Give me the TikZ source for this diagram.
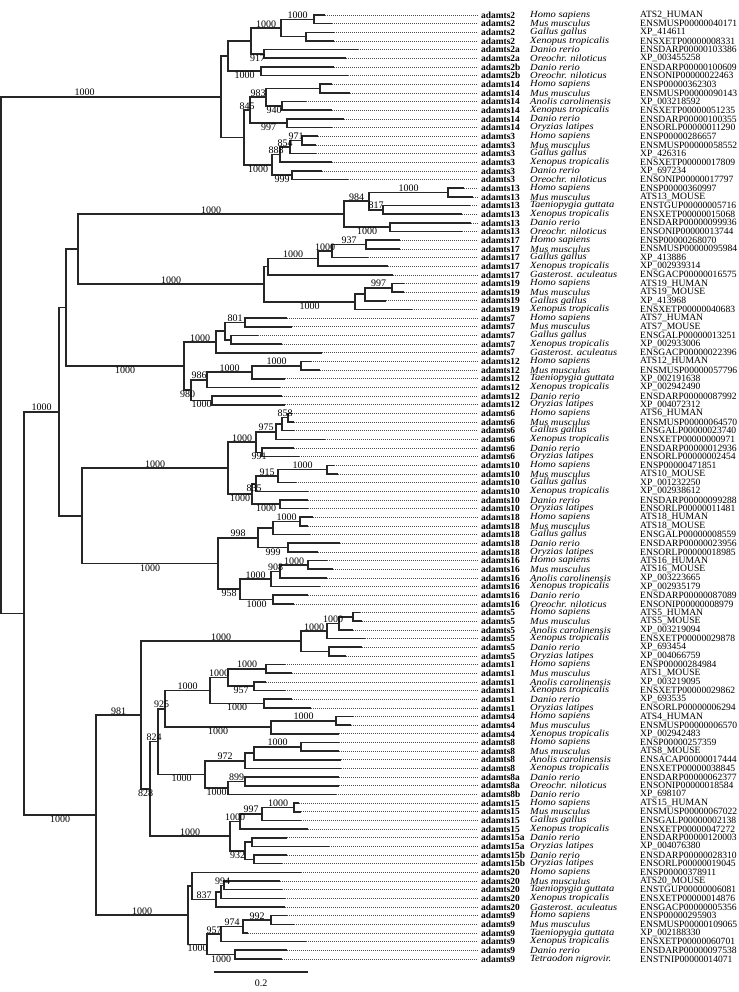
\documentclass[tikz,border=0pt]{standalone}
\usepackage{fontspec}
\setmainfont{Liberation Serif}
\usetikzlibrary{calc,positioning}
\tikzset {
    br/.style={draw, line width=1.6pt, black!85},
    dots/.style={draw, line width=0.6pt, black!70, dash pattern=on 0.8pt off 1.2pt},
    gene/.style={anchor=west, inner sep=0pt, font=\fontsize{9.4}{9.4}\selectfont\bfseries},
    spec/.style={anchor=west, inner sep=0pt, xscale=1.12, font=\fontsize{9.4}{9.4}\selectfont\itshape},
    acc/.style={anchor=west, inner sep=0pt, font=\fontsize{9.6}{9.6}\selectfont},
    bs/.style={inner sep=0.6pt, font=\fontsize{10}{10}\selectfont}
}
% clade: name, x, upper child, lower child
\newcommand{\clade}[4]{
    \coordinate (#1-m) at ($(#3)!0.5!(#4)$);
    \coordinate (#1) at (#2,0 |- #1-m);
    \draw[br] (#3) -- (#3 -| #1) -- (#4 -| #1) -- (#4);
}
\newcommand{\bsu}[3]{\node[bs, above] (b-#2) at ($(#1 |- #2)!0.5!(#2)$) {#3};}
\newcommand{\bsd}[3]{\node[bs, below] (b-#2) at ($(#1 |- #2)!0.5!(#2)$) {#3};}
\begin{document}
\begin{tikzpicture}[x=1pt, y=-1pt]
    \useasboundingbox (0,0) rectangle (738,992);

    \foreach \i/\xe/\g/\sp/\id in {
        1/325/adamts2/Homo sapiens/ATS2\_HUMAN,
        2/332/adamts2/Mus musculus/ENSMUSP00000040171,
        3/334/adamts2/Gallus gallus/XP\_414611,
        4/334/adamts2/Xenopus tropicalis/ENSXETP00000008331,
        5/358/adamts2a/Danio rerio/ENSDARP00000103386,
        6/346/adamts2a/Oreochr. niloticus/XP\_003455258,
        7/334/adamts2b/Danio rerio/ENSDARP00000100609,
        8/348/adamts2b/Oreochr. niloticus/ENSONIP00000022463,
        9/332/adamts14/Homo sapiens/ENSP00000362303,
        10/350/adamts14/Mus musculus/ENSMUSP00000090143,
        11/306/adamts14/Anolis carolinensis/XP\_003218592,
        12/332/adamts14/Xenopus tropicalis/ENSXETP00000051235,
        13/344/adamts14/Danio rerio/ENSDARP00000100355,
        14/332/adamts14/Oryzias latipes/ENSORLP00000011290,
        15/318/adamts3/Homo sapiens/ENSP00000286657,
        16/316/adamts3/Mus musculus/ENSMUSP00000058552,
        17/316/adamts3/Gallus gallus/XP\_426316,
        18/332/adamts3/Xenopus tropicalis/ENSXETP00000017809,
        19/322/adamts3/Danio rerio/XP\_697234,
        20/348/adamts3/Oreochr. niloticus/ENSONIP00000017797,
        21/464/adamts13/Homo sapiens/ENSP00000360997,
        22/473/adamts13/Mus musculus/ATS13\_MOUSE,
        23/470/adamts13/Taeniopygia guttata/ENSTGUP00000005716,
        24/462/adamts13/Xenopus tropicalis/ENSXETP00000015068,
        25/471/adamts13/Danio rerio/ENSDARP00000099936,
        26/462/adamts13/Oreochr. niloticus/ENSONIP00000013744,
        27/400/adamts17/Homo sapiens/ENSP00000268070,
        28/400/adamts17/Mus musculus/ENSMUSP00000095984,
        29/368/adamts17/Gallus gallus/XP\_413886,
        30/388/adamts17/Xenopus tropicalis/XP\_002939314,
        31/393/adamts17/Gasterost. aculeatus/ENSGACP00000016575,
        32/404/adamts19/Homo sapiens/ATS19\_HUMAN,
        33/404/adamts19/Mus musculus/ATS19\_MOUSE,
        34/386/adamts19/Gallus gallus/XP\_413968,
        35/412/adamts19/Xenopus tropicalis/ENSXETP00000040683,
        36/287/adamts7/Homo sapiens/ATS7\_HUMAN,
        37/292/adamts7/Mus musculus/ATS7\_MOUSE,
        38/258/adamts7/Gallus gallus/ENSGALP00000013251,
        39/282/adamts7/Xenopus tropicalis/XP\_002933006,
        40/322/adamts7/Gasterost. aculeatus/ENSGACP00000022396,
        41/311/adamts12/Homo sapiens/ATS12\_HUMAN,
        42/320/adamts12/Mus musculus/ENSMUSP00000057796,
        43/285/adamts12/Taeniopygia guttata/XP\_002191638,
        44/280/adamts12/Xenopus tropicalis/XP\_002942490,
        45/282/adamts12/Danio rerio/ENSDARP00000087992,
        46/285/adamts12/Oryzias latipes/XP\_004072312,
        47/292/adamts6/Homo sapiens/ATS6\_HUMAN,
        48/294/adamts6/Mus musculus/ENSMUSP00000064570,
        49/294/adamts6/Gallus gallus/ENSGALP00000023740,
        50/325/adamts6/Xenopus tropicalis/ENSXETP00000000971,
        51/294/adamts6/Danio rerio/ENSDARP00000012936,
        52/299/adamts6/Oryzias latipes/ENSORLP00000002454,
        53/334/adamts10/Homo sapiens/ENSP00000471851,
        54/338/adamts10/Mus musculus/ATS10\_MOUSE,
        55/296/adamts10/Gallus gallus/XP\_001232250,
        56/308/adamts10/Xenopus tropicalis/XP\_002938612,
        57/308/adamts10/Danio rerio/ENSDARP00000099288,
        58/308/adamts10/Oryzias latipes/ENSORLP00000011481,
        59/313/adamts18/Homo sapiens/ATS18\_HUMAN,
        60/308/adamts18/Mus musculus/ATS18\_MOUSE,
        61/310/adamts18/Gallus gallus/ENSGALP00000008559,
        62/340/adamts18/Danio rerio/ENSDARP00000023956,
        63/318/adamts18/Oryzias latipes/ENSORLP00000018985,
        64/327/adamts16/Homo sapiens/ATS16\_HUMAN,
        65/333/adamts16/Mus musculus/ATS16\_MOUSE,
        66/327/adamts16/Anolis carolinensis/XP\_003223665,
        67/320/adamts16/Xenopus tropicalis/XP\_002935179,
        68/308/adamts16/Danio rerio/ENSDARP00000087089,
        69/294/adamts16/Oreochr. niloticus/ENSONIP00000008979,
        70/360/adamts5/Homo sapiens/ATS5\_HUMAN,
        71/362/adamts5/Mus musculus/ATS5\_MOUSE,
        72/353/adamts5/Anolis carolinensis/XP\_003219094,
        73/365/adamts5/Xenopus tropicalis/ENSXETP00000029878,
        74/362/adamts5/Danio rerio/XP\_693454,
        75/346/adamts5/Oryzias latipes/XP\_004066759,
        76/285/adamts1/Homo sapiens/ENSP00000284984,
        77/292/adamts1/Mus musculus/ATS1\_MOUSE,
        78/266/adamts1/Anolis carolinensis/XP\_003219095,
        79/285/adamts1/Xenopus tropicalis/ENSXETP00000029862,
        80/292/adamts1/Danio rerio/XP\_693535,
        81/311/adamts1/Oryzias latipes/ENSORLP00000006294,
        82/353/adamts4/Homo sapiens/ATS4\_HUMAN,
        83/351/adamts4/Mus musculus/ENSMUSP00000006570,
        84/339/adamts4/Xenopus tropicalis/XP\_002942483,
        85/339/adamts8/Homo sapiens/ENSP00000257359,
        86/339/adamts8/Mus musculus/ATS8\_MOUSE,
        87/341/adamts8/Anolis carolinensis/ENSACAP00000017444,
        88/341/adamts8/Xenopus tropicalis/ENSXETP00000038845,
        89/339/adamts8a/Danio rerio/ENSDARP00000062377,
        90/339/adamts8a/Oreochr. niloticus/ENSONIP00000018584,
        91/336/adamts8b/Danio rerio/XP\_698107,
        92/299/adamts15/Homo sapiens/ATS15\_HUMAN,
        93/301/adamts15/Mus musculus/ENSMUSP00000067022,
        94/301/adamts15/Gallus gallus/ENSGALP00000002138,
        95/308/adamts15/Xenopus tropicalis/ENSXETP00000047272,
        96/287/adamts15a/Danio rerio/ENSDARP00000120003,
        97/329/adamts15a/Oryzias latipes/XP\_004076380,
        98/287/adamts15b/Danio rerio/ENSDARP00000028310,
        99/282/adamts15b/Oryzias latipes/ENSORLP00000019045,
        100/301/adamts20/Homo sapiens/ENSP00000378911,
        101/280/adamts20/Mus musculus/ATS20\_MOUSE,
        102/282/adamts20/Taeniopygia guttata/ENSTGUP00000006081,
        103/285/adamts20/Xenopus tropicalis/ENSXETP00000014876,
        104/285/adamts20/Gasterost. aculeatus/ENSGACP00000005356,
        105/287/adamts9/Homo sapiens/ENSP00000295903,
        106/294/adamts9/Mus musculus/ENSMUSP00000109065,
        107/248/adamts9/Taeniopygia guttata/XP\_002188330,
        108/306/adamts9/Xenopus tropicalis/ENSXETP00000060701,
        109/287/adamts9/Danio rerio/ENSDARP00000097538,
        110/282/adamts9/Tetraodon nigrovir./ENSTNIP00000014071} {
        \coordinate (L\i) at (\xe, {15+8.66*(\i-1)});
        \coordinate (d\i) at (478, {15+8.66*(\i-1)});
        \draw[dots] (L\i) -- (d\i);
        \node[gene] (g\i) at ([xshift=3pt]d\i) {\g};
        \node[spec] (s\i) at (d\i -| 530,0) {\sp};
        \node[acc] (a\i) at (d\i -| 640,0) {\id};
    }

    % adamts2, 14, 3
    \clade{n1-2}{314}{L1}{L2}
    \clade{n3-4}{306}{L3}{L4}
    \clade{n1-4}{281}{n1-2}{n3-4}
    \clade{n5-6}{264}{L5}{L6}
    \clade{n1-6}{251}{n1-4}{n5-6}
    \clade{n7-8}{261}{L7}{L8}
    \clade{n1-8}{228}{n1-6}{n7-8}
    \clade{n9-10}{320}{L9}{L10}
    \clade{n11-12}{282}{L11}{L12}
    \clade{n9-12}{266}{n9-10}{n11-12}
    \clade{n13-14}{287}{L13}{L14}
    \clade{n9-14}{250}{n9-12}{n13-14}
    \clade{n15-16}{302}{L15}{L16}
    \clade{n15-17}{290}{n15-16}{L17}
    \clade{n15-18}{280}{n15-17}{L18}
    \clade{n19-20}{292}{L19}{L20}
    \clade{n15-20}{272}{n15-18}{n19-20}
    \clade{n9-20}{244}{n9-14}{n15-20}
    \clade{T}{221}{n1-8}{n9-20}

    % adamts13, 17, 19
    \clade{n21-22}{448}{L21}{L22}
    \clade{n23-24}{383}{L23}{L24}
    \clade{n21-24}{369}{n21-22}{n23-24}
    \clade{n25-26}{390}{L25}{L26}
    \clade{n21-26}{344}{n21-24}{n25-26}
    \clade{n27-28}{366}{L27}{L28}
    \clade{n27-29}{332}{n27-28}{L29}
    \clade{n27-30}{318}{n27-29}{L30}
    \clade{n27-31}{268}{n27-30}{L31}
    \clade{n32-33}{392}{L32}{L33}
    \clade{n32-34}{365}{n32-33}{L34}
    \clade{n32-35}{355}{n32-34}{L35}
    \clade{n27-35}{264}{n27-31}{n32-35}
    \clade{P13}{78}{n21-26}{n27-35}

    % adamts7, 12
    \clade{n36-37}{245}{L36}{L37}
    \clade{n38-39}{231}{L38}{L39}
    \clade{n36-39}{225}{n36-37}{n38-39}
    \clade{n36-40}{216}{n36-39}{L40}
    \clade{n41-42}{301}{L41}{L42}
    \clade{n41-43}{252}{n41-42}{L43}
    \clade{n41-44}{207}{n41-43}{L44}
    \clade{n45-46}{212}{L45}{L46}
    \clade{n41-46}{191}{n41-44}{n45-46}
    \clade{U}{184}{n36-40}{n41-46}
    \clade{Q}{66}{P13}{U}

    % adamts6, 10, 18, 16
    \clade{n47-48}{288}{L47}{L48}
    \clade{n47-49}{282}{n47-48}{L49}
    \clade{n47-50}{276}{n47-49}{L50}
    \clade{n51-52}{262}{L51}{L52}
    \clade{n47-52}{256}{n47-50}{n51-52}
    \clade{n53-54}{327}{L53}{L54}
    \clade{n53-55}{278}{n53-54}{L55}
    \clade{n53-56}{256}{n53-55}{L56}
    \clade{n57-58}{280}{L57}{L58}
    \clade{n53-58}{252}{n53-56}{n57-58}
    \clade{n47-58}{228}{n47-52}{n53-58}
    \clade{n59-60}{300}{L59}{L60}
    \clade{n59-61}{273}{n59-60}{L61}
    \clade{n62-63}{288}{L62}{L63}
    \clade{n59-63}{258}{n59-61}{n62-63}
    \clade{n64-65}{308}{L64}{L65}
    \clade{n64-66}{280}{n64-65}{L66}
    \clade{n64-67}{271}{n64-66}{L67}
    \clade{n68-69}{273}{L68}{L69}
    \clade{n64-69}{240}{n64-67}{n68-69}
    \clade{S2}{218}{n59-63}{n64-69}
    \clade{S}{82}{n47-58}{S2}
    \clade{Q2}{59}{Q}{S}

    % adamts5, 1, 4, 8, 15
    \clade{n70-71}{353}{L70}{L71}
    \clade{n70-72}{339}{n70-71}{L72}
    \clade{n70-73}{327}{n70-72}{L73}
    \clade{n74-75}{329}{L74}{L75}
    \clade{n70-75}{301}{n70-73}{n74-75}
    \clade{n76-77}{266}{L76}{L77}
    \clade{n78-79}{254}{L78}{L79}
    \clade{n76-79}{228}{n76-77}{n78-79}
    \clade{n80-81}{264}{L80}{L81}
    \clade{n76-81}{210}{n76-79}{n80-81}
    \clade{n82-83}{336}{L82}{L83}
    \clade{n82-84}{271}{n82-83}{L84}
    \clade{n76-84}{165}{n76-81}{n82-84}
    \clade{n85-86}{301}{L85}{L86}
    \clade{n85-87}{254}{n85-86}{L87}
    \clade{n85-88}{245}{n85-87}{L88}
    \clade{n89-90}{245}{L89}{L90}
    \clade{n89-91}{228}{n89-90}{L91}
    \clade{n85-91}{205}{n85-88}{n89-91}
    \clade{Y}{158}{n76-84}{n85-91}
    \clade{n92-93}{294}{L92}{L93}
    \clade{n92-94}{262}{n92-93}{L94}
    \clade{n92-95}{240}{n92-94}{L95}
    \clade{n96-97}{252}{L96}{L97}
    \clade{n98-99}{254}{L98}{L99}
    \clade{n96-99}{245}{n96-97}{n98-99}
    \clade{n92-99}{230}{n92-95}{n96-99}
    \clade{W}{150}{Y}{n92-99}
    \clade{AGG}{141}{n70-75}{W}

    % adamts20, 9
    \clade{n101-102}{224}{L101}{L102}
    \clade{n101-103}{221}{n101-102}{L103}
    \clade{n101-104}{216}{n101-103}{L104}
    \clade{n100-104}{192}{L100}{n101-104}
    \clade{n105-106}{271}{L105}{L106}
    \clade{n105-107}{243}{n105-106}{L107}
    \clade{n105-108}{221}{n105-107}{L108}
    \clade{n109-110}{235}{L109}{L110}
    \clade{n105-110}{207}{n105-108}{n109-110}
    \clade{n100-110}{188}{n100-104}{n105-110}
    \clade{A}{96}{AGG}{n100-110}
    \clade{R2}{24}{Q2}{A}
    \clade{root}{1.2}{T}{R2}

    % bootstrap values
    \node[bs, above] (b-T) at ($(root |- T)!0.38!(T)$) {1000};
    \bsu{n1-4}{n1-2}{1000}
    \bsu{n1-6}{n1-4}{1000}
    \bsd{n1-6}{n5-6}{917}
    \bsd{n1-8}{n7-8}{1000}
    \bsu{n9-20}{n9-14}{845}
    \bsu{n9-14}{n9-12}{983}
    \bsd{n9-12}{n11-12}{940}
    \bsd{n9-14}{n13-14}{997}
    \bsu{n15-17}{n15-16}{971}
    \bsu{n15-18}{n15-17}{854}
    \bsu{n15-20}{n15-18}{888}
    \bsd{n15-20}{n19-20}{999}
    \bsd{n9-20}{n15-20}{1000}
    \bsu{P13}{n21-26}{1000}
    \bsu{n21-26}{n21-24}{984}
    \bsu{n21-24}{n21-22}{1000}
    \bsu{n21-24}{n23-24}{817}
    \bsd{n21-26}{n25-26}{1000}
    \bsu{n27-29}{n27-28}{937}
    \bsu{n27-30}{n27-29}{1000}
    \bsu{n27-31}{n27-30}{1000}
    \bsu{P13}{n27-35}{1000}
    \bsu{n32-34}{n32-33}{997}
    \bsd{n27-35}{n32-35}{1000}
    \bsu{n36-39}{n36-37}{801}
    \bsu{U}{n36-40}{1000}
    \bsd{Q}{U}{1000}
    \bsu{n41-43}{n41-42}{1000}
    \bsu{n41-44}{n41-43}{1000}
    \bsu{n41-46}{n41-44}{986}
    \bsd{n41-46}{n45-46}{1000}
    \bsd{U}{n41-46}{980}
    \bsu{n47-49}{n47-48}{858}
    \bsu{n47-52}{n47-50}{975}
    \bsd{n47-52}{n51-52}{991}
    \bsu{n47-58}{n47-52}{1000}
    \bsu{n53-55}{n53-54}{1000}
    \bsu{n53-56}{n53-55}{915}
    \bsd{n53-58}{n53-56}{835}
    \bsd{n53-58}{n57-58}{1000}
    \bsd{n47-58}{n53-58}{1000}
    \bsu{S}{n47-58}{1000}
    \bsu{n59-61}{n59-60}{1000}
    \bsd{n59-63}{n62-63}{999}
    \bsu{S2}{n59-63}{998}
    \bsu{n64-66}{n64-65}{1000}
    \bsu{n64-67}{n64-66}{908}
    \bsu{n64-69}{n64-67}{1000}
    \bsd{n64-69}{n68-69}{1000}
    \bsd{S2}{n64-69}{958}
    \bsd{S}{S2}{1000}
    \bsu{R2}{Q2}{1000}
    \bsu{n70-73}{n70-72}{1000}
    \bsu{n70-75}{n70-73}{1000}
    \bsu{AGG}{n70-75}{1000}
    \bsu{n76-79}{n76-77}{1000}
    \bsd{n76-79}{n78-79}{957}
    \bsu{n76-81}{n76-79}{1000}
    \bsd{n76-81}{n80-81}{1000}
    \bsu{n76-84}{n76-81}{1000}
    \bsu{n82-84}{n82-83}{1000}
    \bsd{n76-84}{n82-84}{1000}
    \bsu{Y}{n76-84}{925}
    \bsu{n85-87}{n85-86}{1000}
    \bsu{n85-91}{n85-88}{972}
    \bsu{n89-91}{n89-90}{899}
    \bsd{n85-91}{n89-91}{1000}
    \bsd{Y}{n85-91}{1000}
    \bsu{W}{Y}{824}
    \bsu{n92-94}{n92-93}{1000}
    \bsu{n92-95}{n92-94}{997}
    \bsu{n92-99}{n92-95}{1000}
    \bsd{n92-99}{n96-99}{932}
    \bsu{W}{n92-99}{1000}
    \bsd{AGG}{W}{828}
    \bsu{A}{AGG}{981}
    \bsu{n101-103}{n101-102}{994}
    \bsu{n100-104}{n101-104}{837}
    \bsu{n105-107}{n105-106}{992}
    \bsu{n105-108}{n105-107}{974}
    \bsu{n105-110}{n105-108}{957}
    \bsd{n105-110}{n109-110}{1000}
    \bsd{n100-110}{n105-110}{1000}
    \bsu{A}{n100-110}{1000}
    \bsd{R2}{A}{1000}

    % scale bar
    \coordinate (sb1) at (214,972);
    \coordinate (sb2) at (308,972);
    \draw[br] (sb1) -- (sb2);
    \node[bs, below=7pt] (sbl) at ($(sb1)!0.5!(sb2)$) {0.2};
\end{tikzpicture}
\end{document}
